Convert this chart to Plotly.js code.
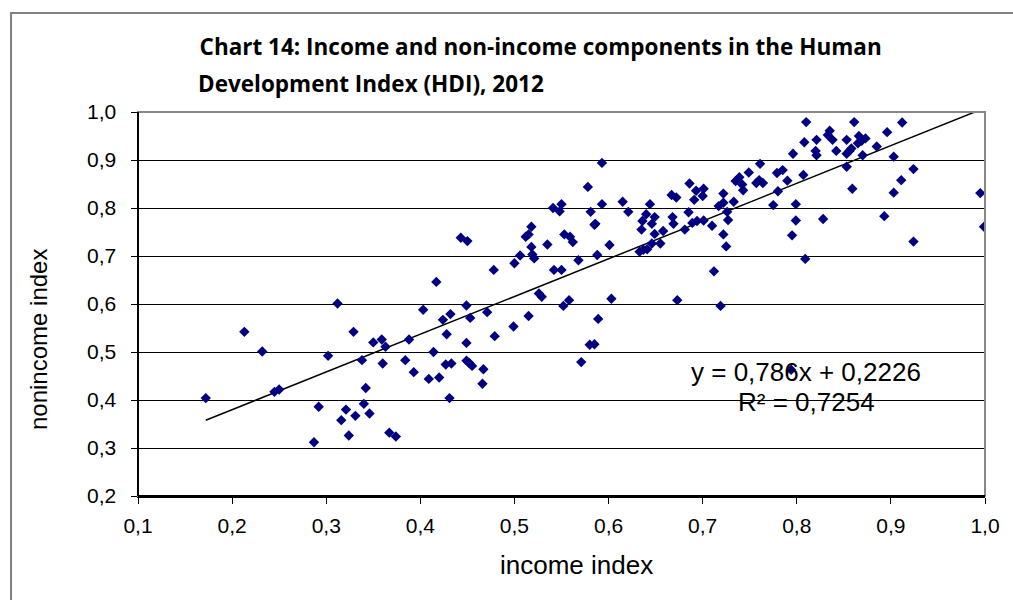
<!DOCTYPE html>
<html>
<head>
<meta charset="utf-8">
<script src="https://cdn.plot.ly/plotly-3.0.1.min.js"></script>
<style>
html,body{margin:0;padding:0;background:#fff;}
#chart{width:1013px;height:600px;}
</style>
</head>
<body>
<div id="chart"></div>
<script>
// Data
var incomeIndex = [
0.172,0.213,0.232,0.245,0.250,0.287,0.292,0.302,0.312,0.316,0.321,0.324,0.329,0.331,0.338,0.340,0.342,0.346,0.350,0.359,0.360,0.363,0.367,0.374,0.384,0.388,0.393,
0.403,0.414,0.409,0.420,0.424,0.428,0.432,0.427,0.433,0.431,0.449,0.453,0.449,0.449,0.452,0.455,0.467,0.466,0.471,0.479,0.499,0.515,0.552,0.558,0.571,0.580,0.585,0.589,0.603,0.673,
0.417,0.443,0.450,0.478,0.500,0.506,0.512,0.515,0.518,0.518,0.519,0.521,0.526,0.529,0.535,0.541,0.548,0.550,0.542,0.550,0.553,0.559,0.562,0.568,0.578,0.581,0.585,0.586,0.588,0.593,0.593,0.601,0.615,0.621,0.633,0.637,0.641,0.646,0.635,0.636,0.640,0.644,0.646,0.649,0.649,0.655,0.658,0.667,0.672,0.668,0.669,0.681,0.685,0.686,0.691,0.693,0.689,0.694,
0.701,0.700,0.701,0.710,0.712,0.722,0.725,0.727,0.717,0.722,0.722,0.726,0.733,0.735,0.739,0.743,0.742,0.749,0.757,0.760,0.764,0.761,0.775,0.779,0.780,0.785,0.790,0.795,0.799,0.799,0.796,0.807,0.808,0.809,0.810,0.820,0.821,0.821,0.828,0.833,0.835,0.838,0.842,0.853,0.853,0.859,0.853,0.856,0.858,0.861,0.865,0.866,0.869,0.873,0.870,0.885,0.893,0.896,0.903,0.903,0.911,0.912,0.924,0.924,0.995,0.999,0.719,0.794
];
var nonincomeIndex = [
0.404,0.542,0.501,0.417,0.422,0.312,0.386,0.492,0.601,0.358,0.380,0.326,0.542,0.367,0.483,0.392,0.425,0.372,0.520,0.526,0.476,0.511,0.332,0.324,0.483,0.526,0.458,
0.588,0.500,0.444,0.447,0.567,0.537,0.579,0.474,0.476,0.404,0.597,0.571,0.519,0.482,0.477,0.471,0.464,0.434,0.583,0.533,0.553,0.575,0.596,0.608,0.479,0.515,0.516,0.569,0.611,0.608,
0.646,0.738,0.731,0.671,0.685,0.701,0.740,0.745,0.761,0.719,0.703,0.695,0.622,0.615,0.724,0.800,0.793,0.808,0.671,0.671,0.745,0.740,0.729,0.691,0.844,0.792,0.765,0.767,0.702,0.894,0.808,0.723,0.813,0.792,0.709,0.713,0.714,0.726,0.755,0.773,0.787,0.808,0.767,0.781,0.746,0.726,0.752,0.827,0.822,0.781,0.767,0.755,0.791,0.851,0.817,0.836,0.769,0.773,
0.840,0.825,0.774,0.763,0.668,0.745,0.720,0.775,0.804,0.811,0.830,0.792,0.813,0.856,0.864,0.837,0.849,0.874,0.852,0.858,0.852,0.892,0.806,0.873,0.835,0.879,0.857,0.743,0.808,0.774,0.913,0.869,0.937,0.694,0.979,0.919,0.910,0.942,0.777,0.952,0.961,0.942,0.919,0.942,0.886,0.840,0.913,0.919,0.924,0.979,0.935,0.950,0.940,0.945,0.910,0.928,0.783,0.958,0.907,0.832,0.858,0.978,0.881,0.730,0.831,0.761,0.596,0.463
];
var TREND_SLOPE = 0.786;
var TREND_INTERCEPT = 0.2226;
var titleLine1 = "Chart 14: Income and non-income components in the Human";
var titleLine2 = "Development Index (HDI), 2012";
var xTitle = "income index";
var yTitle = "nonincome index";
var equationLine1 = "y = 0,786x + 0,2226";
var equationLine2 = "R² = 0,7254";

var xmin = Math.min.apply(null, incomeIndex);
var xmax = Math.max.apply(null, incomeIndex);
var trendX = [xmin, xmax];
var trendY = trendX.map(function(v){ return TREND_SLOPE * v + TREND_INTERCEPT; });

var scatter = {
  x: incomeIndex, y: nonincomeIndex, type: 'scatter', mode: 'markers',
  marker: {symbol: 'diamond', size: 8, color: '#000080', line: {width: 0}},
  hoverinfo: 'x+y', cliponaxis: true
};
var trend = {
  x: trendX, y: trendY, type: 'scatter', mode: 'lines',
  line: {color: '#000000', width: 1.5}, hoverinfo: 'skip'
};

var sans = 'Liberation Sans, Arial, sans-serif';
var titleFont = {family: 'Open Sans, Noto Sans, sans-serif', size: 22.5, color: '#000', weight: 'bold'};
var axisFont = {family: sans, size: 21, color: '#000'};
var eqFont = {family: sans, size: 26, color: '#000'};
var layout = {
  width: 1013, height: 600,
  margin: {l: 138, r: 28, t: 112, b: 104, pad: 0},
  paper_bgcolor: '#ffffff', plot_bgcolor: '#ffffff',
  showlegend: false,
  separators: ', ',
  title: {
    text: titleLine1,
    font: titleFont,
    x: 0.197, xref: 'container', xanchor: 'left', align: 'left',
    y: 1 - 47/600, yref: 'container', yanchor: 'middle'
  },
  xaxis: {
    range: [0.1, 1.0], dtick: 0.1, tick0: 0.1, tickformat: '.1f',
    showgrid: false, zeroline: false,
    showline: true, linecolor: '#000', linewidth: 1.5,
    ticks: 'outside', ticklen: 6, tickcolor: '#000', tickwidth: 1,
    tickfont: axisFont, ticklabelstandoff: 4
  },
  yaxis: {
    range: [0.2, 1.0], dtick: 0.1, tick0: 0.2, tickformat: '.1f',
    showgrid: true, gridcolor: '#000', gridwidth: 1, zeroline: false,
    showline: true, linecolor: '#000', linewidth: 1.5,
    ticks: 'outside', ticklen: 6, tickcolor: '#000', tickwidth: 1,
    tickfont: axisFont, ticklabelstandoff: 10
  },
  annotations: [
    {text: titleLine2, xref: 'paper', yref: 'paper',
     x: (196 - 138) / 847, y: (496 - 83) / 384, xanchor: 'left', yanchor: 'middle',
     showarrow: false, align: 'left', font: titleFont},
    {text: xTitle, xref: 'paper', yref: 'paper',
     x: (576 - 138) / 847, y: (496 - 565) / 384, xanchor: 'center', yanchor: 'middle',
     showarrow: false, font: {family: sans, size: 26, color: '#000'}},
    {text: yTitle, xref: 'paper', yref: 'paper', textangle: -90,
     x: (38 - 138) / 847, y: (496 - 340) / 384, xanchor: 'center', yanchor: 'middle',
     showarrow: false, font: {family: sans, size: 24, color: '#000'}},
    {text: equationLine1, xref: 'x', yref: 'y', x: 0.8103, y: 0.2 + (496 - 372) / 480,
     showarrow: false, align: 'center', xanchor: 'center', yanchor: 'middle', font: eqFont},
    {text: equationLine2, xref: 'x', yref: 'y', x: 0.8103, y: 0.2 + (496 - 402) / 480,
     showarrow: false, align: 'center', xanchor: 'center', yanchor: 'middle', font: eqFont}
  ],
  shapes: [
    {type: 'rect', xref: 'paper', yref: 'paper', x0: 0, x1: 1, y0: 0, y1: 1,
     line: {color: '#888888', width: 2}, layer: 'above'},
    {type: 'line', xref: 'paper', yref: 'paper', x0: 0, x1: 0, y0: 0, y1: 1,
     line: {color: '#000', width: 2}, layer: 'above'},
    {type: 'line', xref: 'paper', yref: 'paper', x0: 0, x1: 1, y0: 0, y1: 0,
     line: {color: '#000', width: 2}, layer: 'above'},
    {type: 'rect', xref: 'paper', yref: 'paper', x0: -0.1499, x1: 1.2, y0: -0.5, y1: 1.2578,
     line: {color: '#808080', width: 2}, layer: 'below'}
  ]
};

Plotly.newPlot('chart', [trend, scatter], layout, {displayModeBar: false, staticPlot: true});
</script>
</body>
</html>
